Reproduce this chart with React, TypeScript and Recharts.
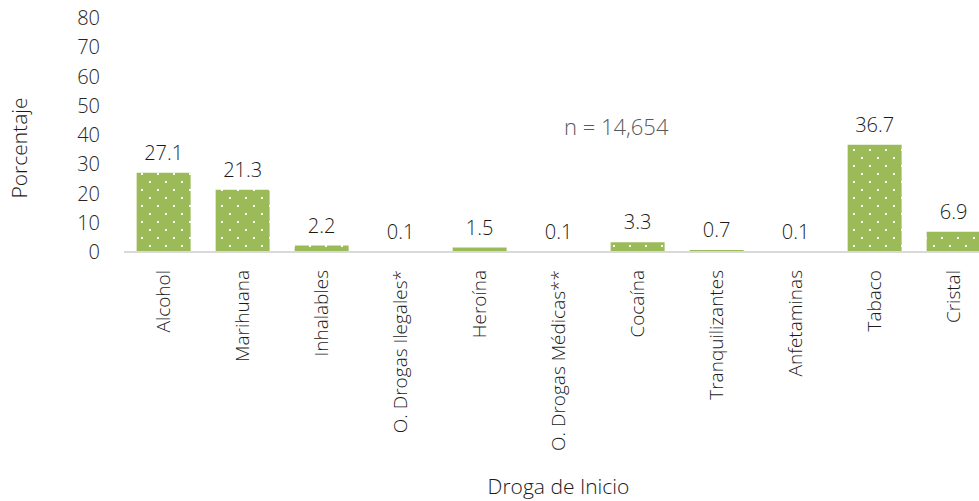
import { BarChart, Bar, XAxis, YAxis, LabelList, Label } from 'recharts'

const DRUGS = [
  'Alcohol',
  'Marihuana',
  'Inhalables',
  'O. Drogas Ilegales*',
  'Heroína',
  'O. Drogas Médicas**',
  'Cocaína',
  'Tranquilizantes',
  'Anfetaminas',
  'Tabaco',
  'Cristal',
]
const PERCENT = [27.1, 21.3, 2.2, 0.1, 1.5, 0.1, 3.3, 0.7, 0.1, 36.7, 6.9]
const Y_TICKS = [0, 10, 20, 30, 40, 50, 60, 70, 80]

const data = DRUGS.map((name, i) => ({ name, value: PERCENT[i] }))

const FONT = '"Open Sans", sans-serif'
const WEIGHT = 350
const GREEN = '#9bbb59'

// rotated category labels, reading bottom-to-top, hanging under the axis
const CategoryTick = (props: any) => {
  const { x, y, payload } = props
  return (
    <text
      transform={`translate(${x},${y + 10}) rotate(-90)`}
      textAnchor="end"
      dy="0.35em"
      fontFamily={FONT}
      fontWeight={WEIGHT}
      fontSize={19}
      fill="#1a1a1a"
    >
      {payload.value}
    </text>
  )
}

export default function App() {
  return (
    <div style={{ position: 'absolute', left: 0, top: 0, width: 979, height: 501, overflow: 'hidden', background: '#fff' }}>
      <BarChart
        width={1000}
        height={501}
        data={data}
        margin={{ top: 18, right: 7, left: 0, bottom: 0 }}
        barCategoryGap="16%"
      >
        <defs>
          <pattern id="dots" width="16" height="16" patternUnits="userSpaceOnUse">
            <rect width="16" height="16" fill={GREEN} />
            <rect x="5" y="5" width="2" height="2" fill="#fff" />
            <rect x="13" y="13" width="2" height="2" fill="#fff" />
          </pattern>
        </defs>
        <XAxis
          dataKey="name"
          interval={0}
          height={249}
          tickLine={false}
          axisLine={{ stroke: '#d9d9d9', strokeWidth: 2 }}
          tick={<CategoryTick />}
        >
          <Label
            value="Droga de Inicio"
            position="insideBottom"
            offset={7}
            style={{ fontFamily: FONT, fontWeight: WEIGHT, fontSize: 21, fill: '#1a1a1a' }}
          />
        </XAxis>
        <YAxis
          domain={[0, 80]}
          ticks={Y_TICKS}
          interval={0}
          width={124}
          axisLine={false}
          tickLine={false}
          tickMargin={18}
          tick={{ fontFamily: FONT, fontWeight: WEIGHT, fontSize: 20, fill: '#262626' }}
        >
          <Label
            content={() => (
              <text
                transform="translate(20,148) rotate(-90)"
                textAnchor="middle"
                dy="0.35em"
                fontFamily={FONT}
                fontWeight={WEIGHT}
                fontSize={21}
                fill="#1a1a1a"
              >
                Porcentaje
              </text>
            )}
          />
        </YAxis>
        <Bar dataKey="value" fill="url(#dots)" isAnimationActive={false}>
          <LabelList
            dataKey="value"
            position="top"
            offset={13}
            formatter={(v: any) => Number(v).toFixed(1)}
            style={{ fontFamily: FONT, fontWeight: WEIGHT, fontSize: 20, fill: '#1a1a1a' }}
          />
        </Bar>
      </BarChart>
      <div
        style={{
          position: 'absolute',
          left: 564,
          top: 111,
          fontFamily: FONT,
          fontWeight: WEIGHT,
          fontSize: 22,
          color: '#595959',
          whiteSpace: 'nowrap',
        }}
      >
        n = 14,654
      </div>
    </div>
  )
}
